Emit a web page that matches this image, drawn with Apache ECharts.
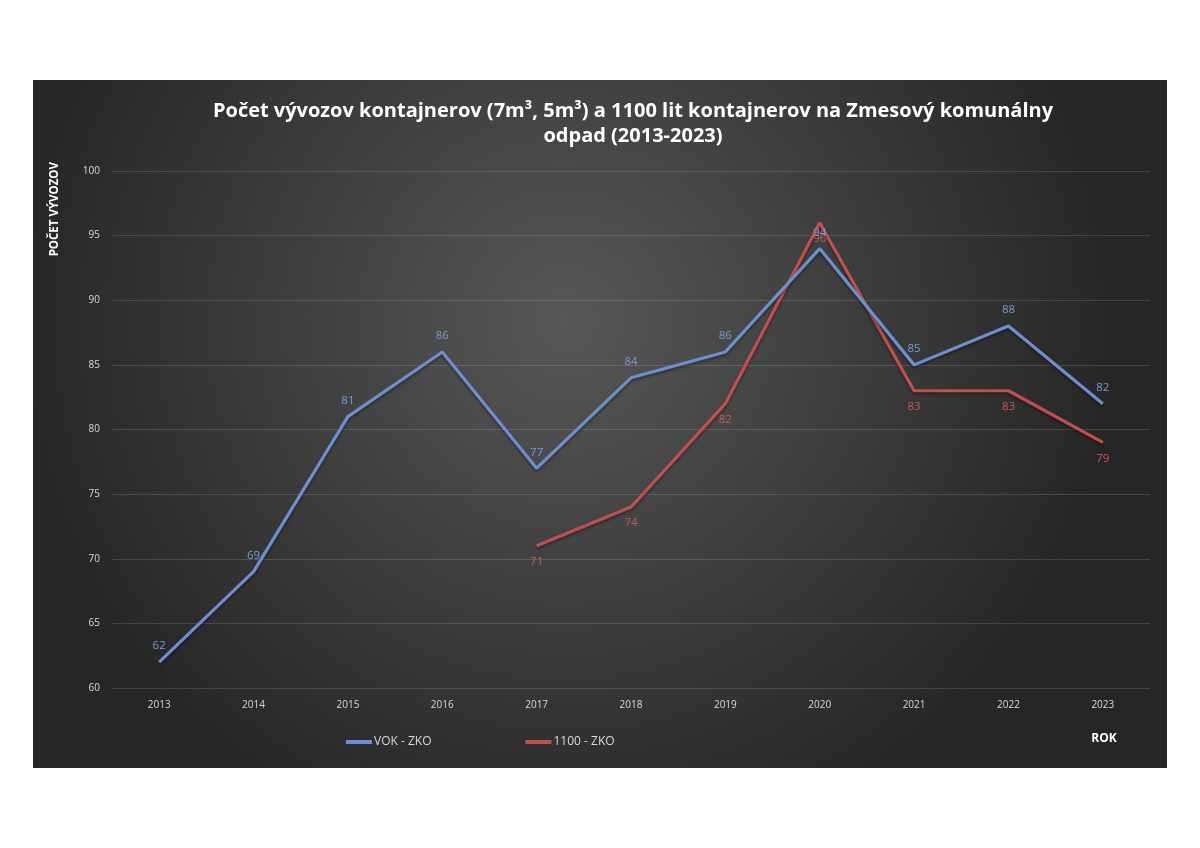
<!DOCTYPE html>
<html><head><meta charset="utf-8">
<script src="https://cdn.jsdelivr.net/npm/echarts@6/dist/echarts.min.js"></script>
<style>html,body{margin:0;padding:0;background:#fff;}#c{width:1200px;height:848px;}</style>
</head><body><div id="c"></div>
<script>
const years = ['2013','2014','2015','2016','2017','2018','2019','2020','2021','2022','2023'];
const vokZko = [62, 69, 81, 86, 77, 84, 86, 94, 85, 88, 82];
const zko1100 = [null, null, null, null, 71, 74, 82, 96, 83, 83, 79];
const yTicks = [60, 65, 70, 75, 80, 85, 90, 95, 100];

const chart = echarts.init(document.getElementById('c'));
const fnt = '"Open Sans", "Noto Sans", sans-serif';
chart.setOption({
  backgroundColor: '#ffffff',
  animation: false,
  graphic: [
    { type: 'rect', z: -10, silent: true,
      shape: { x: 33, y: 80, width: 1134, height: 688 },
      style: { fill: new echarts.graphic.RadialGradient(0.47, 0.35, 0.8, [
        { offset: 0, color: '#575757' }, { offset: 1, color: '#262626' }]) } },
    { type: 'text', z: 10, rotation: Math.PI / 2, x: 49, y: 162,
      style: { text: 'POČET VÝVOZOV', fill: '#ffffff', font: 'bold 11.5px ' + fnt, textAlign: 'right', textVerticalAlign: 'top' } },
    { type: 'text', z: 10,
      style: { text: 'ROK', x: 1104, y: 739, fill: '#ffffff', font: 'bold 12px ' + fnt, textAlign: 'center', textVerticalAlign: 'middle' } }
  ],
  title: {
    text: 'Počet vývozov kontajnerov (7m³, 5m³) a 1100 lit kontajnerov na Zmesový komunálny\nodpad (2013-2023)',
    left: 628, top: 94, textAlign: 'center',
    textStyle: { color: '#ffffff', fontFamily: fnt, fontWeight: 'bold', fontSize: 20, lineHeight: 25 }
  },
  legend: {
    top: 731, left: 341, itemGap: 94, itemWidth: 26, itemHeight: 4,
    icon: 'rect',
    textStyle: { color: '#d9d9d9', fontFamily: fnt, fontSize: 12, padding: [0,0,0,-3] },
    data: ['VOK - ZKO', '1100 - ZKO']
  },
  grid: { left: 112, right: 50, top: 171, bottom: 160, containLabel: false },
  xAxis: {
    type: 'category', data: years, boundaryGap: true,
    axisLine: { show: false }, axisTick: { show: false },
    axisLabel: { color: '#d9d9d9', fontFamily: fnt, fontSize: 10, margin: 12 }
  },
  yAxis: {
    type: 'value', min: yTicks[0], max: yTicks[yTicks.length - 1], interval: 5,
    axisLine: { show: false }, axisTick: { show: false },
    axisLabel: { color: '#d9d9d9', fontFamily: fnt, fontSize: 10, margin: 12 },
    splitLine: { lineStyle: { color: 'rgba(255,255,255,0.14)', width: 1 } }
  },
  series: [
    { name: 'VOK - ZKO', type: 'line', data: vokZko, symbol: 'circle', symbolSize: 0.1, showSymbol: true, z: 3,
      lineStyle: { color: '#6c8fd0', width: 3.2, shadowColor: 'rgba(0,0,0,0.4)', shadowBlur: 3, shadowOffsetY: 2 },
      itemStyle: { color: '#6c8fd0' },
      label: { show: true, position: 'top', distance: 10, color: '#7b9bd6', fontFamily: fnt, fontSize: 11.5 } },
    { name: '1100 - ZKO', type: 'line', data: zko1100, symbol: 'circle', symbolSize: 0.1, showSymbol: true, z: 2,
      lineStyle: { color: '#c0504d', width: 3.2, shadowColor: 'rgba(0,0,0,0.4)', shadowBlur: 3, shadowOffsetY: 2 },
      itemStyle: { color: '#c0504d' },
      label: { show: true, position: 'bottom', distance: 10, color: '#c65b58', fontFamily: fnt, fontSize: 11.5 } }
  ]
});
</script></body></html>
